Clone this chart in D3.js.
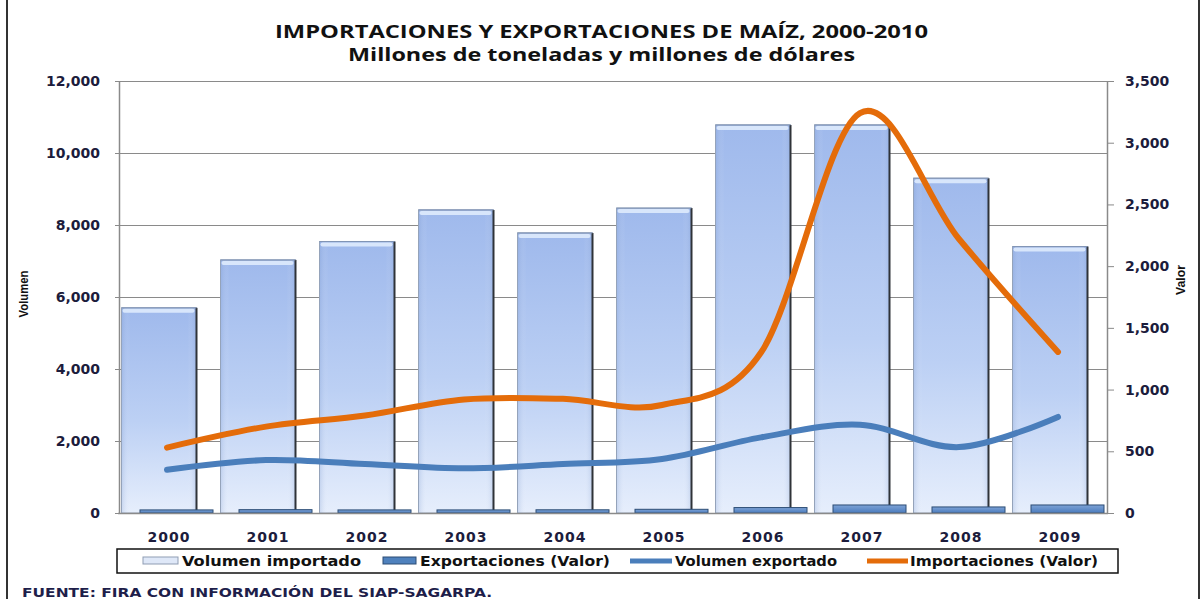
<!DOCTYPE html>
<html><head><meta charset="utf-8">
<script src="https://cdn.jsdelivr.net/npm/d3@7"></script>
<style>
html,body{margin:0;padding:0;background:#fff;}
svg{display:block;}
</style></head>
<body>
<script>
const years = ["2000","2001","2002","2003","2004","2005","2006","2007","2008","2009"];
const volumenImportado = [5700, 7030, 7540, 8420, 7780, 8470, 10780, 10780, 9300, 7400];
const exportacionesValor = [25, 27, 25, 25, 26, 30, 44, 65, 49, 65];
const volumenExportado = [1200, 1470, 1360, 1240, 1360, 1500, 2100, 2450, 1830, 2670];
const importacionesValor = [530, 700, 790, 920, 925, 875, 1300, 3240, 2220, 1305];
const leftTicks = [0, 2000, 4000, 6000, 8000, 10000, 12000];
const rightTicks = [0, 500, 1000, 1500, 2000, 2500, 3000, 3500];
const titleText = "IMPORTACIONES Y EXPORTACIONES DE MAÍZ, 2000-2010";
const subtitleText = "Millones de toneladas y millones de dólares";
const leftTitle = "Volumen";
const rightTitle = "Valor";
const sourceText = "FUENTE: FIRA CON INFORMACIÓN DEL SIAP-SAGARPA.";
const legendLabels = ["Volumen importado", "Exportaciones (Valor)", "Volumen exportado", "Importaciones (Valor)"];

(function(){
const W = 1201, H = 599;
const svg = d3.select("body").append("svg").attr("width", W).attr("height", H);
const defs = svg.append("defs");
const g1 = defs.append("linearGradient").attr("id","barGrad").attr("x1",0).attr("y1",0).attr("x2",0).attr("y2",1);
g1.append("stop").attr("offset","0%").attr("stop-color","#9fb9ec");
g1.append("stop").attr("offset","55%").attr("stop-color","#bcd0f4");
g1.append("stop").attr("offset","100%").attr("stop-color","#e6eefc");
const g1h = defs.append("linearGradient").attr("id","barGradH").attr("x1",0).attr("y1",0).attr("x2",1).attr("y2",0);
g1h.append("stop").attr("offset","0%").attr("stop-color","#6f8fc8").attr("stop-opacity",0.25);
g1h.append("stop").attr("offset","12%").attr("stop-color","#ffffff").attr("stop-opacity",0);
g1h.append("stop").attr("offset","88%").attr("stop-color","#ffffff").attr("stop-opacity",0);
g1h.append("stop").attr("offset","100%").attr("stop-color","#6f8fc8").attr("stop-opacity",0.25);
const g2 = defs.append("linearGradient").attr("id","expGrad").attr("x1",0).attr("y1",0).attr("x2",0).attr("y2",1);
g2.append("stop").attr("offset","0%").attr("stop-color","#7ea3d6");
g2.append("stop").attr("offset","100%").attr("stop-color","#4a7bbd");

const pLeft = 117.5, pRight = 1107.5, pTop = 81, pBottom = 513;
const x = d3.scaleBand().domain(years).range([pLeft, pRight]).padding(0);
const yL = d3.scaleLinear().domain([0, 12000]).range([pBottom, pTop]);
const yR = d3.scaleLinear().domain([0, 3500]).range([pBottom, pTop]);
const cx = d => x(d) + x.bandwidth() / 2;

const labelColor = "#1c1c3c";
const tickFont = "'DejaVu Sans', Verdana, sans-serif";

// frame
svg.append("line").attr("x1",7).attr("x2",7).attr("y1",0).attr("y2",H).attr("stroke","#333").attr("stroke-width",2);
svg.append("line").attr("x1",1199).attr("x2",1199).attr("y1",0).attr("y2",H).attr("stroke","#333").attr("stroke-width",2);

// title
svg.append("text").attr("x",601.5).attr("y",38).attr("text-anchor","middle")
  .attr("font-family","'Open Sans', sans-serif").attr("font-weight",700).attr("font-size",18)
  .attr("fill","#111").attr("textLength",653).attr("lengthAdjust","spacingAndGlyphs").text(titleText);
svg.append("text").attr("x",601.5).attr("y",61).attr("text-anchor","middle")
  .attr("font-family","'Open Sans', sans-serif").attr("font-weight",700).attr("font-size",17)
  .attr("fill","#111").attr("textLength",507).attr("lengthAdjust","spacingAndGlyphs").text(subtitleText);

// grid
const grid = svg.append("g").attr("transform",`translate(${119},0)`)
  .call(d3.axisLeft(yL).tickValues(leftTicks).tickSize(-(1107-119)).tickFormat(""));
grid.select(".domain").remove();
grid.selectAll("line").attr("stroke","#8a8a8a").attr("stroke-width",1.2);

// import bars (behind)
const bw = 75, bOff = -8;
const bars = svg.append("g");
bars.selectAll("rect.imp").data(years).join("rect").attr("class","imp")
  .attr("x", d => cx(d) + bOff - bw/2)
  .attr("y", (d,i) => yL(volumenImportado[i]))
  .attr("width", bw)
  .attr("height", (d,i) => pBottom - yL(volumenImportado[i]))
  .attr("fill","url(#barGrad)").attr("stroke","#9aa6b8").attr("stroke-width",1);
bars.selectAll("rect.impH").data(years).join("rect").attr("class","impH")
  .attr("x", d => cx(d) + bOff - bw/2)
  .attr("y", (d,i) => yL(volumenImportado[i]))
  .attr("width", bw)
  .attr("height", (d,i) => pBottom - yL(volumenImportado[i]))
  .attr("fill","url(#barGradH)");
bars.selectAll("rect.topb").data(years).join("rect").attr("class","topb")
  .attr("x", d => cx(d) + bOff - bw/2 + 1)
  .attr("y", (d,i) => yL(volumenImportado[i]) + 1)
  .attr("width", bw - 3).attr("height", 4).attr("rx",2)
  .attr("fill","#d8e6fb");
bars.selectAll("line.edge").data(years).join("line").attr("class","edge")
  .attr("x1", d => cx(d) + bOff + bw/2).attr("x2", d => cx(d) + bOff + bw/2)
  .attr("y1", (d,i) => yL(volumenImportado[i])).attr("y2", pBottom)
  .attr("stroke","#2f3338").attr("stroke-width",2);
bars.selectAll("line.topEdge").data(years).join("line").attr("class","topEdge")
  .attr("x1", d => cx(d) + bOff - bw/2).attr("x2", d => cx(d) + bOff + bw/2)
  .attr("y1", (d,i) => yL(volumenImportado[i])).attr("y2", (d,i) => yL(volumenImportado[i]))
  .attr("stroke","#7f93b5").attr("stroke-width",1);

// left axis
const axL = svg.append("g").attr("transform","translate(119,0)")
  .call(d3.axisLeft(yL).tickValues(leftTicks).tickSize(4).tickSizeOuter(0).tickPadding(15).tickFormat(d3.format(",")));
axL.select(".domain").attr("stroke","#8a8a8a").attr("stroke-width",1.5);
axL.selectAll(".tick line").attr("stroke","#8a8a8a");
axL.selectAll("text").attr("font-family",tickFont).attr("font-weight",700).attr("font-size",14).attr("fill",labelColor);

// right axis
const axR = svg.append("g").attr("transform","translate(1107,0)")
  .call(d3.axisRight(yR).tickValues(rightTicks).tickSize(7).tickSizeOuter(0).tickPadding(11).tickFormat(d3.format(",")));
axR.select(".domain").attr("stroke","#8a8a8a").attr("stroke-width",1.5);
axR.selectAll(".tick line").attr("stroke","#8a8a8a");
axR.selectAll("text").attr("font-family",tickFont).attr("font-weight",700).attr("font-size",14).attr("fill",labelColor);

// export bars (front)
const ew = 73, eOff = 9.5;
svg.append("g").selectAll("rect").data(years).join("rect")
  .attr("x", d => cx(d) + eOff - ew/2)
  .attr("y", (d,i) => yR(exportacionesValor[i]))
  .attr("width", ew)
  .attr("height", (d,i) => pBottom - yR(exportacionesValor[i]))
  .attr("fill","url(#expGrad)").attr("stroke","#2c4d75").attr("stroke-width",1);

// bottom axis
const axB = svg.append("g").attr("transform",`translate(0,${pBottom})`)
  .call(d3.axisBottom(x).tickSize(0).tickPadding(19));
axB.select(".domain").attr("stroke","#8a8a8a").attr("stroke-width",1.5);
axB.selectAll("text").attr("font-family",tickFont).attr("font-weight",700).attr("font-size",14)
  .attr("fill",labelColor).attr("dx",2).attr("letter-spacing",1);

// lines
const lineL = d3.line().x((d,i) => cx(years[i])).y(d => yL(d)).curve(d3.curveCatmullRom.alpha(0));
const lineR = d3.line().x((d,i) => cx(years[i])).y(d => yR(d)).curve(d3.curveCatmullRom.alpha(0));
svg.append("path").attr("d", lineL(volumenExportado)).attr("fill","none")
  .attr("stroke","#4a7ebb").attr("stroke-width",6).attr("stroke-linecap","round").attr("stroke-linejoin","round");
svg.append("path").attr("d", lineR(importacionesValor)).attr("fill","none")
  .attr("stroke","#e46c0a").attr("stroke-width",6).attr("stroke-linecap","round").attr("stroke-linejoin","round");

// axis titles
svg.append("text").attr("transform","translate(28,294) rotate(-90)").attr("text-anchor","middle")
  .attr("font-family","'Liberation Sans', Arial, sans-serif").attr("font-weight",700).attr("font-size",13).attr("fill","#111")
  .attr("textLength",47).attr("lengthAdjust","spacingAndGlyphs").text(leftTitle);
svg.append("text").attr("transform","translate(1185,280) rotate(-90)").attr("text-anchor","middle")
  .attr("font-family","'Liberation Sans', Arial, sans-serif").attr("font-weight",700).attr("font-size",13).attr("fill","#111")
  .attr("textLength",30).attr("lengthAdjust","spacingAndGlyphs").text(rightTitle);

// legend
const lg = svg.append("g");
lg.append("rect").attr("x",117).attr("y",549).attr("width",1001).attr("height",24)
  .attr("fill","#fff").attr("stroke","#111").attr("stroke-width",1.5);
const legendItems = [
  {sx:143, ex:178, tx:182, tw:179, kind:"bar1"},
  {sx:383, ex:416, tx:420, tw:190, kind:"bar2"},
  {sx:630, ex:672, tx:675, tw:162, kind:"line1"},
  {sx:867, ex:908, tx:910, tw:188, kind:"line2"}
];
legendItems.forEach((it, i) => {
  if (it.kind === "bar1") {
    lg.append("rect").attr("x",it.sx).attr("y",557).attr("width",it.ex-it.sx).attr("height",7)
      .attr("fill","#dfe8f8").attr("stroke","#8f9db3").attr("stroke-width",1);
  } else if (it.kind === "bar2") {
    lg.append("rect").attr("x",it.sx).attr("y",557).attr("width",it.ex-it.sx).attr("height",7)
      .attr("fill","#4f81bd").attr("stroke","#2c4d75").attr("stroke-width",1);
  } else {
    lg.append("line").attr("x1",it.sx).attr("x2",it.ex).attr("y1",561).attr("y2",561)
      .attr("stroke", it.kind === "line1" ? "#4a7ebb" : "#e46c0a").attr("stroke-width",5);
  }
  lg.append("text").attr("x",it.tx).attr("y",566)
    .attr("font-family",tickFont).attr("font-weight",700).attr("font-size",14).attr("fill","#111")
    .attr("textLength",it.tw).attr("lengthAdjust","spacingAndGlyphs").text(legendLabels[i]);
});

// source
svg.append("text").attr("x",22).attr("y",597)
  .attr("font-family",tickFont).attr("font-weight",700).attr("font-size",13).attr("fill","#1e1e4a")
  .attr("textLength",470).attr("lengthAdjust","spacingAndGlyphs").text(sourceText);
})();
</script>
</body></html>
